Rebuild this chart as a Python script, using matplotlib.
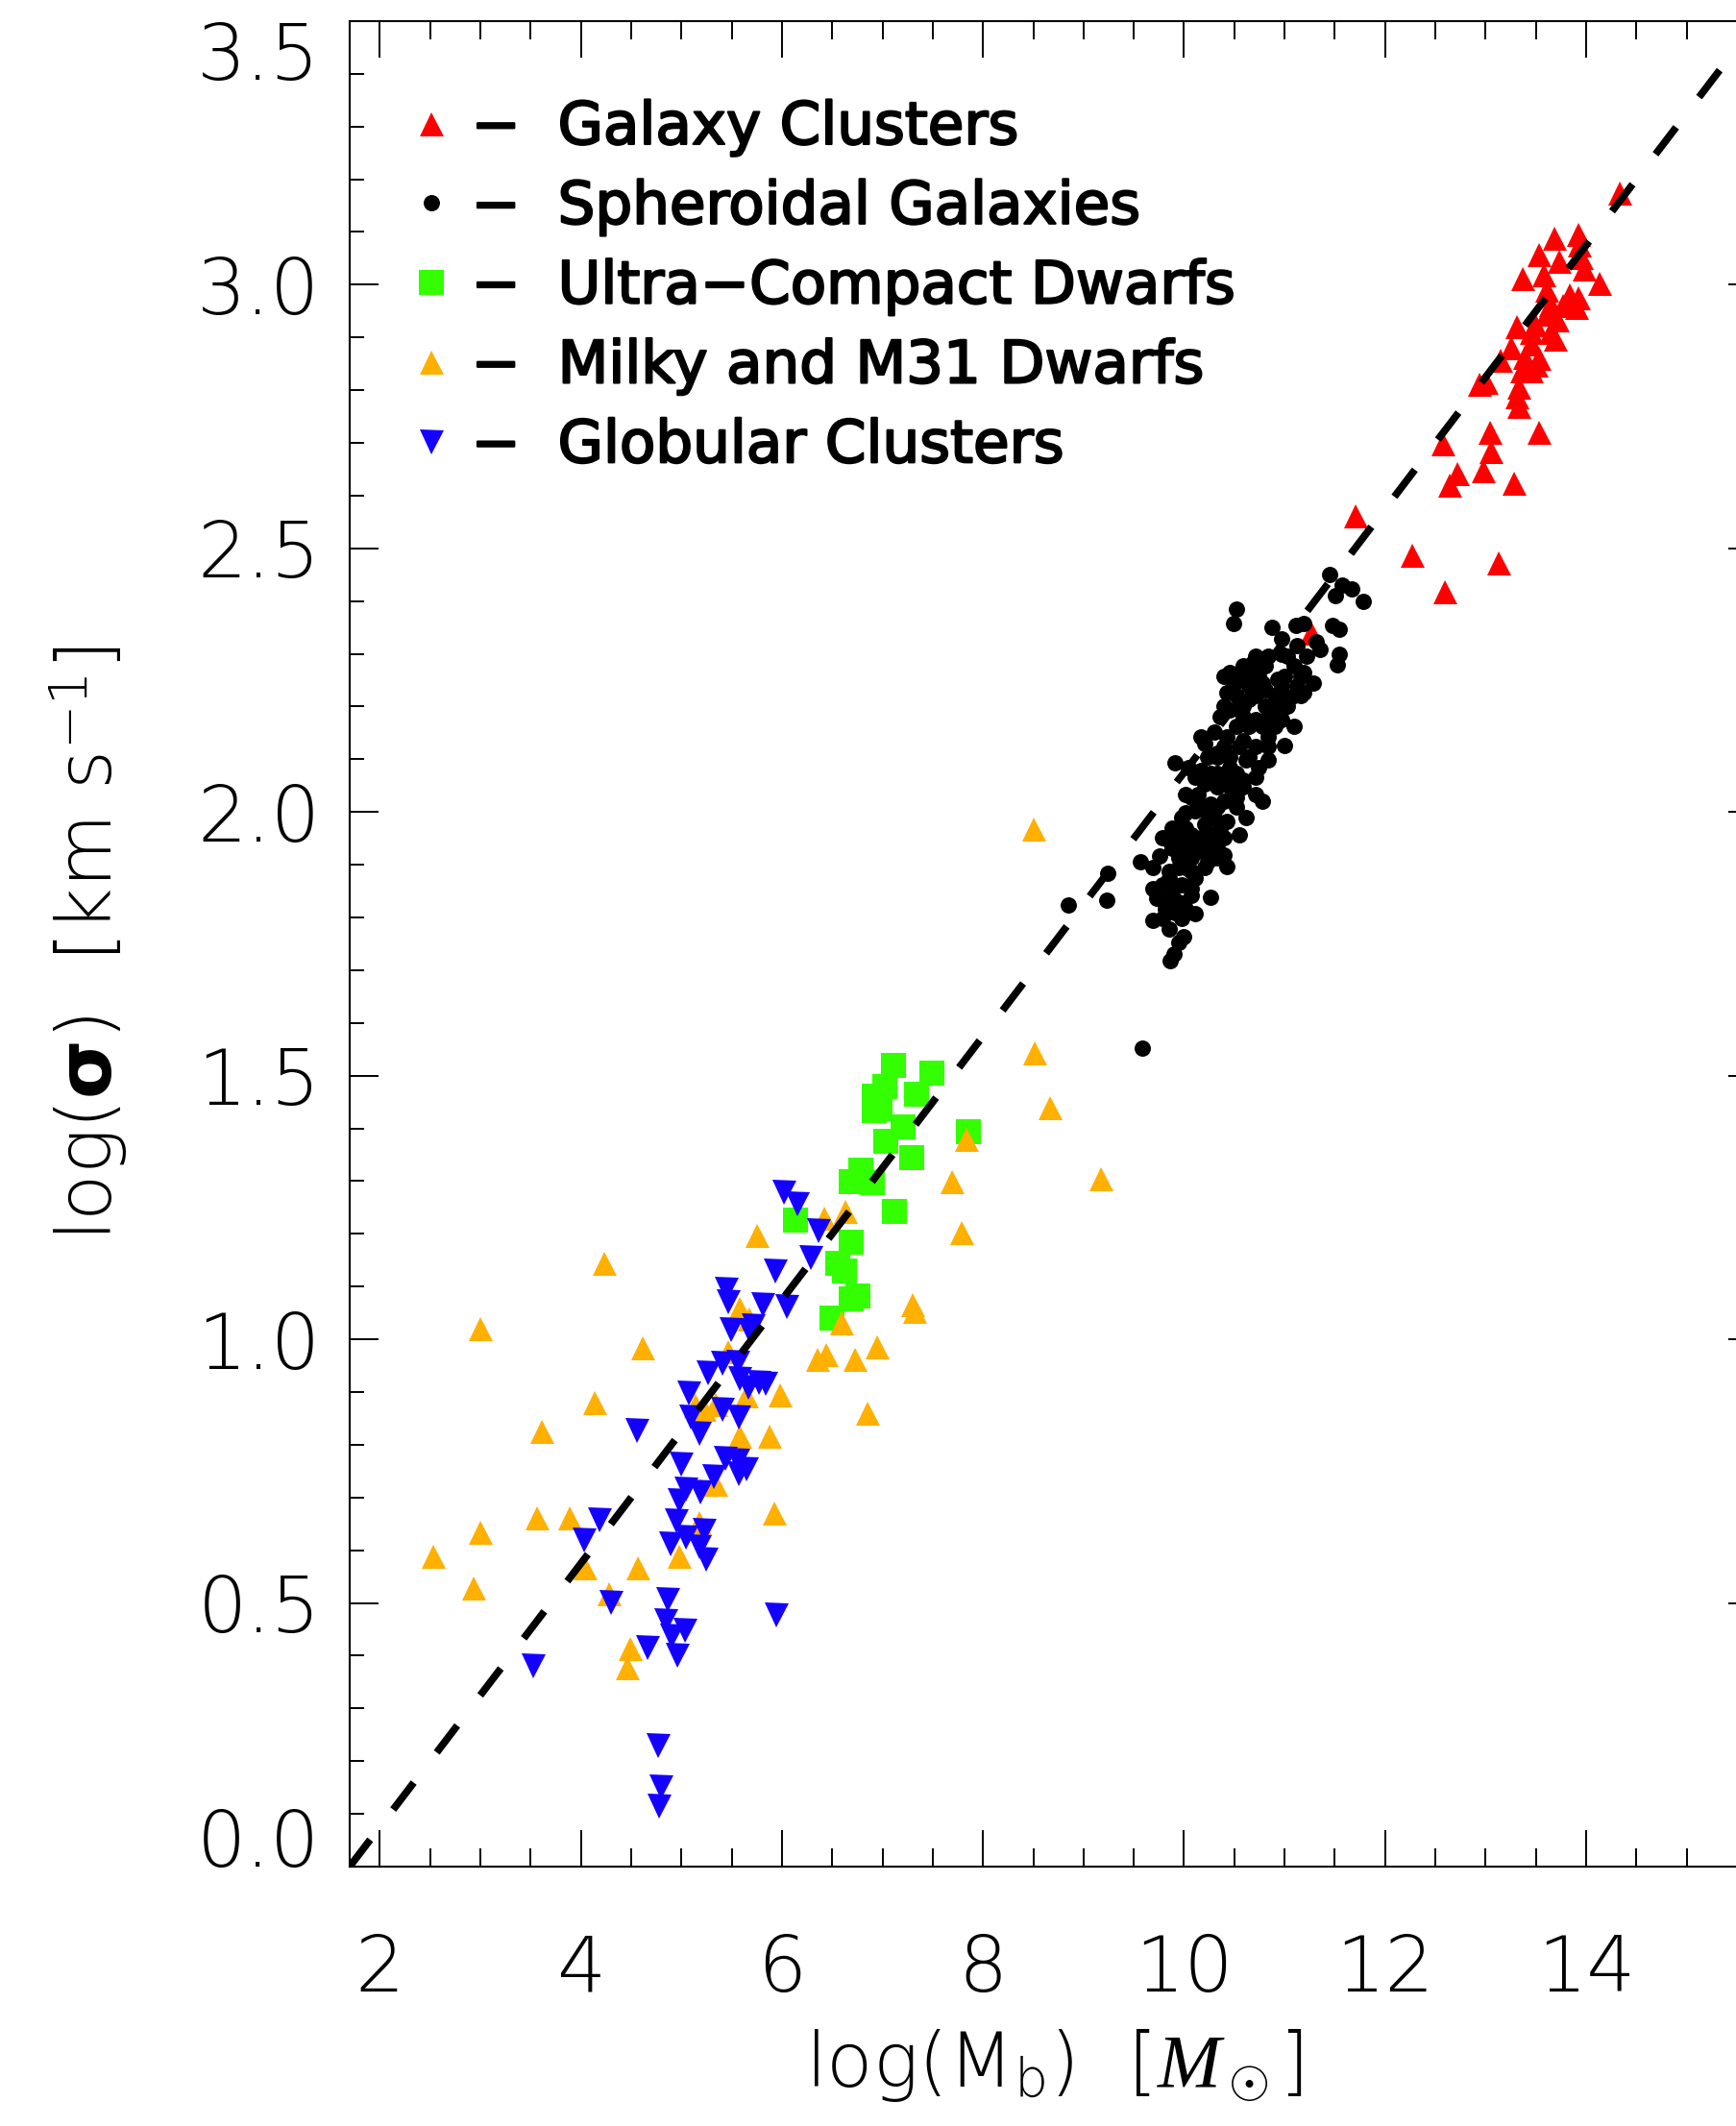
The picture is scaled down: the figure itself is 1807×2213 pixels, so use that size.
import matplotlib
matplotlib.use("Agg")
import matplotlib.pyplot as plt
import matplotlib.patheffects as pe
from matplotlib import font_manager as fm
from matplotlib.ticker import MultipleLocator

# log(Mb) / log(sigma)
cluster_x = [14.33, 13.68, 13.92, 13.93, 13.53, 13.73, 13.95, 13.37, 13.58, 13.98,
             14.13, 13.61, 13.84, 13.92, 13.65, 13.77, 13.90, 13.61, 13.31, 13.49,
             13.71, 13.45, 13.65, 13.69, 13.25, 13.45, 13.15, 13.39, 13.53, 13.50,
             13.36, 13.45, 12.94, 13.01, 13.33, 13.31, 13.33, 13.04, 13.53, 12.58,
             13.05, 12.98, 12.72, 12.64, 13.28, 11.71, 12.27, 13.13, 12.59, 11.27]
cluster_y = [3.174, 3.088, 3.096, 3.076, 3.057, 3.045, 3.051, 3.012, 3.018, 3.030,
             3.003, 2.990, 2.981, 2.975, 2.963, 2.960, 2.957, 2.945, 2.921, 2.924,
             2.933, 2.909, 2.909, 2.896, 2.881, 2.887, 2.857, 2.863, 2.860, 2.848,
             2.836, 2.836, 2.811, 2.814, 2.805, 2.787, 2.769, 2.720, 2.720, 2.699,
             2.684, 2.647, 2.641, 2.620, 2.623, 2.562, 2.487, 2.473, 2.418, 2.340]

spheroid_x = [11.445, 11.573, 11.669, 11.509, 11.780, 10.520, 10.488, 10.871, 11.110, 11.190,
              11.477, 11.541, 10.967, 11.126, 11.318, 11.350, 11.541, 11.525, 10.680, 10.456,
              10.839, 10.967, 11.190, 11.286, 11.190, 11.094, 10.425, 10.456, 10.520, 10.648,
              10.775, 10.935, 11.031, 10.807, 10.648, 10.712, 10.967, 11.094, 10.999, 10.297,
              10.425, 10.584, 10.712, 10.201, 10.839, 10.744, 10.616, 10.456, 10.233, 10.169,
              9.914, 10.329, 10.520, 10.584, 10.456, 10.201, 10.010, 10.712, 10.775, 10.616,
              10.393, 10.265, 10.106, 10.010, 10.425, 10.201, 10.552, 9.882, 10.074, 10.265,
              9.850, 10.010, 10.329, 10.138, 9.755, 9.563, 9.946, 10.233, 10.393, 10.425,
              9.244, 9.850, 10.074, 9.787, 9.978, 9.723, 10.074, 10.265, 9.228, 8.846,
              9.946, 9.914, 10.106, 9.691, 9.850, 9.994, 9.898, 9.866, 9.589, 10.648,
              10.807, 10.903, 10.520, 10.393, 10.520, 10.648, 10.329, 10.265, 10.393, 10.138,
              10.233, 9.946, 10.138, 10.010, 9.882, 9.818,
              10.712, 11.031, 11.222, 10.584, 10.807, 11.094, 10.393, 10.744, 10.999, 11.158,
              10.488, 10.967, 11.126, 10.712, 10.967, 11.158, 10.393, 10.584, 10.903, 10.361,
              10.584, 10.839, 10.775, 10.903, 10.169, 10.839, 10.552, 10.839, 10.329, 10.648,
              10.042, 10.456, 10.106, 10.712, 10.329, 10.584, 10.074, 10.520, 10.169, 10.329,
              10.520, 9.978, 10.297, 10.010, 10.361, 9.787, 10.169, 10.393, 9.882, 10.233,
              10.074, 10.329, 9.691, 9.946, 10.201, 9.850, 10.106, 9.691, 10.074, 9.850,
              10.010, 9.787, 9.978, 9.946]
spheroid_y = [2.450, 2.431, 2.424, 2.411, 2.399, 2.384, 2.357, 2.351, 2.354, 2.357,
              2.354, 2.347, 2.328, 2.315, 2.322, 2.309, 2.299, 2.280, 2.283, 2.264,
              2.296, 2.299, 2.264, 2.245, 2.226, 2.220, 2.226, 2.194, 2.252, 2.239,
              2.245, 2.252, 2.200, 2.200, 2.213, 2.175, 2.175, 2.162, 2.127, 2.152,
              2.143, 2.136, 2.124, 2.130, 2.098, 2.085, 2.098, 2.105, 2.105, 2.079,
              2.093, 2.073, 2.073, 2.060, 2.047, 2.053, 2.034, 2.034, 2.021, 1.989,
              2.021, 2.015, 2.002, 1.999, 1.983, 1.977, 1.957, 1.970, 1.957, 1.957,
              1.945, 1.932, 1.938, 1.926, 1.916, 1.906, 1.913, 1.906, 1.919, 1.897,
              1.884, 1.887, 1.887, 1.862, 1.862, 1.836, 1.842, 1.839, 1.833, 1.823,
              1.830, 1.810, 1.807, 1.794, 1.779, 1.763, 1.731, 1.718, 1.552, 2.264,
              2.232, 2.220, 2.220, 2.124, 2.162, 2.162, 2.111, 2.073, 2.060, 2.034,
              1.996, 1.945, 1.945, 1.894, 1.849, 1.817,
              2.296, 2.296, 2.296, 2.277, 2.277, 2.277, 2.258, 2.258, 2.258, 2.258,
              2.239, 2.239, 2.239, 2.220, 2.220, 2.220, 2.200, 2.200, 2.200, 2.181,
              2.181, 2.181, 2.162, 2.162, 2.143, 2.143, 2.124, 2.124, 2.105, 2.105,
              2.085, 2.085, 2.066, 2.066, 2.047, 2.047, 2.028, 2.028, 2.009, 2.009,
              2.009, 1.989, 1.989, 1.970, 1.970, 1.951, 1.951, 1.951, 1.932, 1.932,
              1.913, 1.913, 1.894, 1.894, 1.894, 1.874, 1.874, 1.855, 1.855, 1.836,
              1.817, 1.798, 1.798, 1.753]

ucd_x = [7.106, 7.489, 7.027, 6.915, 6.979, 6.915, 7.336, 7.202, 7.036, 7.288,
         7.853, 6.781, 6.685, 6.899, 7.116, 6.130, 6.685, 6.558, 6.618, 6.756,
         6.692, 6.500]
ucd_y = [1.520, 1.505, 1.480, 1.462, 1.437, 1.433, 1.464, 1.403, 1.375, 1.345,
         1.394, 1.320, 1.299, 1.298, 1.243, 1.227, 1.184, 1.144, 1.130, 1.083,
         1.076, 1.040]

dwarf_x = [8.504, 8.516, 8.663, 9.177, 7.834, 7.690, 7.792, 7.304, 7.323, 6.628,
           6.421, 5.751, 6.590, 4.229, 2.997, 4.611, 6.358, 6.445, 6.730, 5.585,
           5.679, 5.468, 4.142, 5.980, 5.145, 5.226, 5.339, 5.647, 3.608, 5.582,
           5.872, 5.339, 3.566, 3.890, 5.921, 2.997, 5.177, 6.850, 2.528, 2.929,
           4.039, 4.566, 4.980, 4.278, 4.491, 4.462, 6.950]
dwarf_y = [1.967, 1.543, 1.440, 1.304, 1.379, 1.299, 1.202, 1.066, 1.053, 1.242,
           1.229, 1.197, 1.031, 1.144, 1.020, 0.984, 0.962, 0.971, 0.962, 1.059,
           1.038, 0.977, 0.880, 0.895, 0.874, 0.868, 0.877, 0.892, 0.825, 0.816,
           0.816, 0.725, 0.661, 0.661, 0.670, 0.634, 0.652, 0.860, 0.589, 0.529,
           0.566, 0.566, 0.589, 0.517, 0.413, 0.377, 0.985]

globular_x = [6.016, 6.156, 6.367, 6.287, 5.933, 5.805, 6.047, 5.443, 5.468, 5.491,
              5.679, 5.711, 5.559, 5.410, 5.268, 5.582, 5.663, 5.776, 5.841, 5.070,
              5.096, 5.177, 5.404, 5.572, 4.556, 5.000, 5.436, 5.565, 5.646, 5.572,
              5.323, 5.048, 5.193, 4.983, 4.181, 4.951, 4.032, 5.226, 4.892, 5.048,
              5.177, 5.242, 4.304, 4.860, 4.847, 5.032, 4.902, 4.660, 4.957, 3.527,
              5.947, 4.766, 4.795, 4.776]
globular_y = [1.279, 1.258, 1.207, 1.155, 1.130, 1.066, 1.063, 1.095, 1.071, 1.018,
              1.017, 1.026, 0.956, 0.954, 0.936, 0.925, 0.910, 0.919, 0.916, 0.899,
              0.853, 0.822, 0.868, 0.853, 0.828, 0.764, 0.774, 0.771, 0.755, 0.745,
              0.740, 0.716, 0.710, 0.695, 0.658, 0.655, 0.619, 0.637, 0.613, 0.625,
              0.607, 0.583, 0.501, 0.507, 0.467, 0.449, 0.437, 0.416, 0.400, 0.381,
              0.478, 0.230, 0.151, 0.115]

# dashed relation, corner to corner
fit_x = [1.7, 15.7]
fit_y = [0.0, 3.5]

legend_labels = ["Galaxy Clusters", "Spheroidal Galaxies", "Ultra\u2212Compact Dwarfs",
                 "Milky and M31 Dwarfs", "Globular Clusters"]
x_ticks = [2, 4, 6, 8, 10, 12, 14]
y_ticks = [0.0, 0.5, 1.0, 1.5, 2.0, 2.5, 3.0, 3.5]


def weight_of(f):
    w = f.weight
    if isinstance(w, str):
        w = fm.weight_dict.get(w, 400)
    return w


def pick_light():
    # thinnest face we can find, to look like the IDL vector font
    for fam in ["DejaVu Sans", "Roboto", "Lato", "Open Sans", "Noto Sans"]:
        for f in fm.fontManager.ttflist:
            if f.name.startswith(fam) and f.style == "normal" and weight_of(f) <= 300:
                return f.name, weight_of(f)
    return "DejaVu Sans", 400


thin_fam, thin_w = pick_light()
plt.rcParams["mathtext.fontset"] = "custom"
plt.rcParams["mathtext.rm"] = f"{thin_fam}:weight={thin_w}"
plt.rcParams["mathtext.it"] = "Liberation Serif:italic"
plt.rcParams["mathtext.bf"] = "DejaVu Sans:bold"
plt.rcParams["lines.scale_dashes"] = False

fig = plt.figure(figsize=(18.08, 22.13), dpi=100)
ax = fig.add_axes([0.2013, 0.1220, 0.8103, 0.8681])

ax.plot(cluster_x, cluster_y, ls="none", marker="^", ms=18, mew=0, color="#ff0000",
        label="\u2212  " + legend_labels[0])
ax.plot(spheroid_x, spheroid_y, ls="none", marker="o", ms=12.2, mew=0, color="black",
        label="\u2212  " + legend_labels[1])
ax.plot(ucd_x, ucd_y, ls="none", marker="s", ms=18.7, mew=0, color="#33ff00",
        label="\u2212  " + legend_labels[2])
ax.plot(dwarf_x, dwarf_y, ls="none", marker="^", ms=18, mew=0, color="#ffb000",
        label="\u2212  " + legend_labels[3])
ax.plot(globular_x, globular_y, ls="none", marker="v", ms=18, mew=0, color="#1400ff",
        label="\u2212  " + legend_labels[4])
ax.plot(fit_x, fit_y, color="black", lw=5.5, dashes=(25.4, 28.4), solid_capstyle="butt",
        dash_capstyle="butt", zorder=5)

ax.set_xlim(1.7, 15.7)
ax.set_ylim(0, 3.5)
ax.set_xticks(x_ticks)
ax.set_xticklabels([str(t) for t in x_ticks], fontsize=58, fontfamily=thin_fam,
                   fontweight=thin_w)
ax.set_yticks(y_ticks)
ax.set_yticklabels([f"{t:.1f}" for t in y_ticks], fontsize=58, fontfamily=thin_fam,
                   fontweight=thin_w)
ax.xaxis.set_minor_locator(MultipleLocator(0.5))
ax.yaxis.set_minor_locator(MultipleLocator(0.1))
ax.tick_params(axis="x", which="major", direction="in", length=27.4, width=1.4,
               top=True, pad=50)
ax.tick_params(axis="x", which="minor", direction="in", length=13.7, width=1.4, top=True)
ax.tick_params(axis="y", which="major", direction="in", length=21.4, width=1.4,
               right=True, pad=22)
ax.tick_params(axis="y", which="minor", direction="in", length=10.6, width=1.4, right=True)
yt = ax.yaxis.get_major_ticks()
yt[0].label1.set_va("baseline")
yt[-1].label1.set_va("top")
for s in ax.spines.values():
    s.set_linewidth(1.5)

ax.set_xlabel(r"log(M$_{\rm b}$)  [$M_\odot$]", fontsize=57, fontfamily=thin_fam,
              fontweight=thin_w)
ax.xaxis.set_label_coords(0.5, -0.087)
ax.set_ylabel(r"log($\mathbf{\sigma}$)  [km s$^{-1}$]", fontsize=57, fontfamily=thin_fam,
              fontweight=thin_w)
ax.yaxis.set_label_coords(-0.156, 0.5)

leg = ax.legend(loc="upper left", bbox_to_anchor=(0.0372, 0.9573), frameon=False,
                handlelength=1.0, handletextpad=0.18, labelspacing=0.39, borderpad=0,
                borderaxespad=0, numpoints=1, prop={"family": "DejaVu Sans", "size": 44})
# IDL thick-line text: regular face with a slight outline
for t in leg.get_texts():
    t.set_path_effects([pe.withStroke(linewidth=1.6, foreground="black")])

fig.savefig("out.png", dpi=100)
